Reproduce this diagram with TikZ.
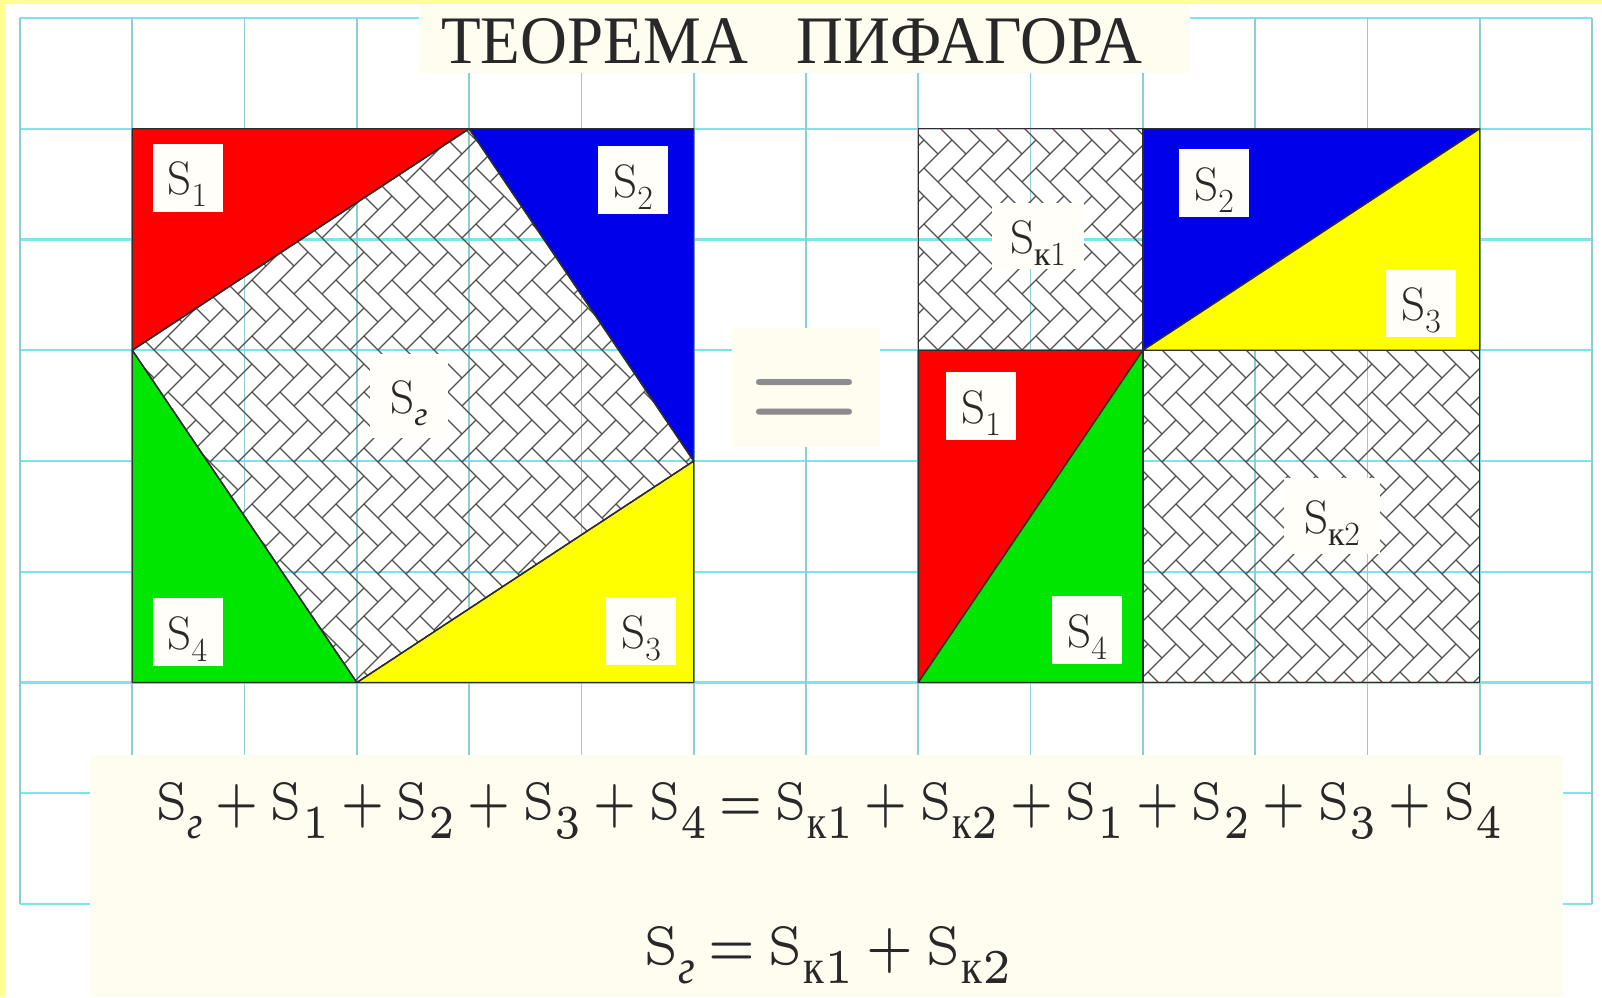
\documentclass[tikz,border=0pt]{standalone}
\usepackage{fontspec}
\usepackage{graphicx}
\newfontfamily\cyr{Liberation Serif}
\definecolor{frameY}{RGB}{255,255,150}
\definecolor{gridH}{RGB}{125,228,236}
\definecolor{gridV}{RGB}{140,205,215}
\definecolor{cream}{RGB}{255,252,240}
\definecolor{labfill}{RGB}{255,254,248}
\definecolor{txt}{RGB}{40,40,40}
\definecolor{cR}{RGB}{255,0,0}
\definecolor{cB}{RGB}{0,0,235}
\definecolor{cG}{RGB}{0,230,0}
\definecolor{cY}{RGB}{255,255,0}
\definecolor{edge}{RGB}{45,45,45}
\definecolor{brick}{RGB}{80,80,80}
\definecolor{eqgray}{RGB}{140,140,140}
\makeatletter
\newcommand\Sg[3]{S\raisebox{#2}{\fontsize{\fpeval{#1*\f@size}}{0}\selectfont #3}}
\makeatother
\newcommand\Sl[1]{\Sg{0.72}{-0.26em}{#1}}
\newcommand\Sf[1]{\Sg{0.9}{-0.37em}{#1}}
\newcommand\gsub{{\cyr\itshape г}}
\newcommand\ksub[1]{{\cyr к}#1}
\newcommand\op[1]{\hspace{0.25em}#1\hspace{0.25em}}
\tikzset{
 hline/.style={gridH, line width=2.2pt},
 vline/.style={gridV, line width=1.8pt},
 piece/.style={draw=edge, line width=1.4pt, line join=round},
 brickline/.style={draw=brick, line width=1.2pt},
 lab/.style={fill=labfill, inner sep=0pt, minimum width=70pt, minimum height=68pt,
   text=txt, font=\fontsize{47}{50}\selectfont, text height=39pt, text depth=5pt},
}
\begin{document}
\begin{tikzpicture}[x=1pt,y=-1pt]
\useasboundingbox (0,0) rectangle (1602,997);
\fill[frameY] (0,0) rectangle (1602,997);
\fill[white] (5,4) rectangle (1602,997);
% grid
\foreach \j in {0,...,8} \draw[hline] (20,{18+110.75*\j}) -- (1592,{18+110.75*\j});
\foreach \i in {0,...,14} \draw[vline] ({20+112.2857*\i},18) -- ({20+112.2857*\i},904);
% coordinates
\coordinate (LTL) at (132.29,128.75);
\coordinate (LTR) at (693.71,128.75);
\coordinate (LBR) at (693.71,682.5);
\coordinate (LBL) at (132.29,682.5);
\coordinate (Pt) at (469.14,128.75);
\coordinate (Pr) at (693.71,461);
\coordinate (Pb) at (356.86,682.5);
\coordinate (Pl) at (132.29,350.25);
\coordinate (RTL) at (918.29,128.75);
\coordinate (RTM) at (1142.86,128.75);
\coordinate (RTR) at (1479.71,128.75);
\coordinate (RML) at (918.29,350.25);
\coordinate (RC) at (1142.86,350.25);
\coordinate (RMR) at (1479.71,350.25);
\coordinate (RBL) at (918.29,682.5);
\coordinate (RBM) at (1142.86,682.5);
\coordinate (RBR) at (1479.71,682.5);
% herringbone
\begin{scope}
\clip (Pt)--(Pr)--(Pb)--(Pl)--cycle (RTL) rectangle (RC) (RC) rectangle (RBR);
\draw[brickline] foreach \i in {2,...,54} { foreach \j in {0,...,13} {
  ({28*\i},{56*\j}) -- ++(28,-28) -- ++(14,14) -- ++(-28,28) -- cycle
  ({28*\i+14},{56*\j+14}) -- ++(14,-14) -- ++(28,28) -- ++(-14,14) -- cycle
}};
\end{scope}
% left square
\path[piece, fill=cR] (LTL)--(Pt)--(Pl)--cycle;
\path[piece, fill=cB] (Pt)--(LTR)--(Pr)--cycle;
\path[piece, fill=cY] (Pr)--(LBR)--(Pb)--cycle;
\path[piece, fill=cG] (Pb)--(LBL)--(Pl)--cycle;
\draw[piece] (Pt)--(Pr)--(Pb)--(Pl)--cycle;
% right square
\path[piece, fill=cB] (RTM)--(RTR)--(RC)--cycle;
\path[piece, fill=cY] (RTR)--(RMR)--(RC)--cycle;
\path[piece, fill=cR] (RML)--(RC)--(RBL)--cycle;
\path[piece, fill=cG] (RC)--(RBM)--(RBL)--cycle;
\draw[piece] (RTL) rectangle (RC);
\draw[piece] (RC) rectangle (RBR);
% cream boxes
\fill[cream] (419,4) rectangle (1190,73);
\fill[cream] (732,328) rectangle (880,447);
\fill[cream] (90,755) rectangle (1563,997);
% texts
\node[anchor=base west, inner sep=0pt, text=txt] (title) at (441,63)
  {\resizebox{701pt}{45pt}{\cyr\fontsize{68}{70}\selectfont ТЕОРЕМА\hspace{0.75em}ПИФАГОРА}};
\node[anchor=base, inner sep=0pt, text=eqgray] (eq) at (805,435.5) {\resizebox{112pt}{56pt}{=}};
\node[anchor=base west, inner sep=0pt, text=txt] (f1) at (155,819)
  {\resizebox{1347pt}{37pt}{\fontsize{5}{6}\selectfont \Sf{\gsub}\op{+}\Sf{1}\op{+}\Sf{2}\op{+}\Sf{3}\op{+}\Sf{4}\op{=}\Sf{\ksub{1}}\op{+}\Sf{\ksub{2}}\op{+}\Sf{1}\op{+}\Sf{2}\op{+}\Sf{3}\op{+}\Sf{4}}};
\node[anchor=base west, inner sep=0pt, text=txt] (f2) at (643,964)
  {\resizebox{368pt}{38pt}{\fontsize{5}{6}\selectfont \Sf{\gsub}\op{=}\Sf{\ksub{1}}\op{+}\Sf{\ksub{2}}}};
% labels
\node[lab] (l1) at (187.5,177.5) {\Sl{1}};
\node[lab] (l2) at (633,180) {\Sl{2}};
\node[lab] (l3) at (641,631) {\Sl{3}};
\node[lab] (l4) at (187.5,632) {\Sl{4}};
\node[lab, minimum width=78pt, minimum height=84pt] (lg) at (409,396) {\Sl{\gsub}};
\node[lab] (r2) at (1214,183) {\Sl{2}};
\node[lab] (r3) at (1421,303) {\Sl{3}};
\node[lab] (r1) at (981,406) {\Sl{1}};
\node[lab] (r4) at (1087,630) {\Sl{4}};
\node[lab, minimum width=92pt, minimum height=66pt] (rk1) at (1038,236) {\Sl{\ksub{1}}};
\node[lab, minimum width=96pt, minimum height=76pt] (rk2) at (1332,516) {\Sl{\ksub{2}}};
\end{tikzpicture}
\end{document}
